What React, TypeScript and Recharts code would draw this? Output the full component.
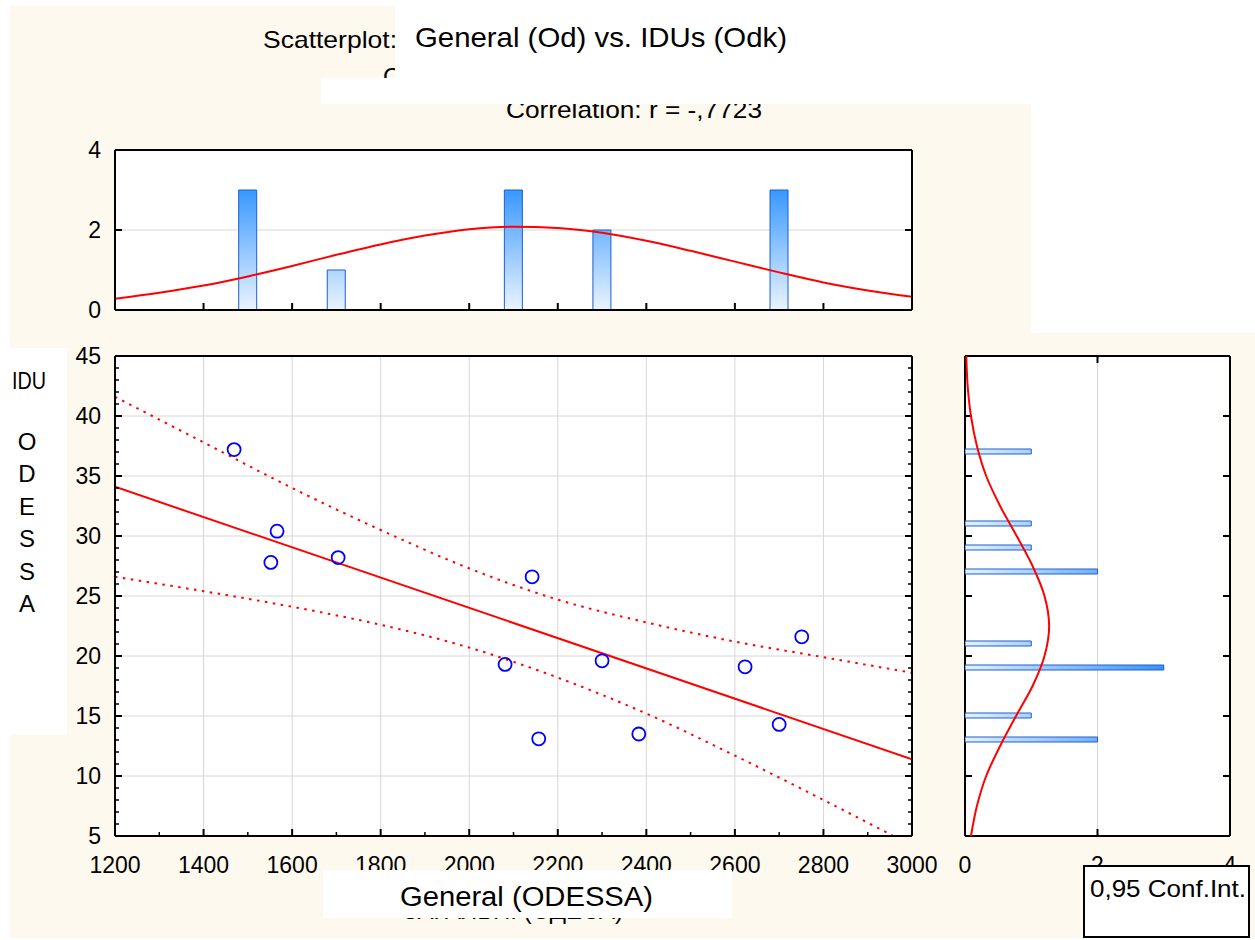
import React from 'react';
import { ComposedChart, XAxis, YAxis, Bar, Line, Scatter, CartesianGrid } from 'recharts';

const FONT = '"Liberation Sans", Arial, Helvetica, sans-serif';
const CREAM = '#fef9ee';
const RED = '#ff0000';

// ---------------- data ----------------
const generalOdessa = [1469, 1566, 1552, 1704, 2081, 2142, 2157, 2300, 2383, 2623, 2700, 2751];
const iduOdessa = [37.2, 30.4, 27.8, 28.2, 19.3, 26.6, 13.1, 19.6, 13.5, 19.1, 14.3, 21.6];

const generalBins = [1500, 1700, 2100, 2300, 2700];
const generalCounts = [3, 1, 3, 2, 3];

const iduBins = [37, 31, 29, 27, 21, 19, 15, 13];
const iduCounts = [1, 1, 1, 2, 1, 3, 1, 2];

const fitX = [1200, 3000];
const fitY = [34.1, 11.4];

const bandX = [1200, 1400, 1600, 1800, 2000, 2200, 2400, 2600, 2800, 3000];
const bandUpper = [41.6, 37.8, 34.0, 30.5, 27.3, 24.7, 22.8, 21.2, 19.9, 18.6];
const bandLower = [26.6, 25.4, 24.1, 22.6, 20.7, 18.2, 15.2, 11.7, 8.0, 4.2];

const generalCurveX = [1200, 1300, 1400, 1500, 1600, 1700, 1800, 1900, 2000, 2100, 2200, 2300, 2400, 2500, 2600, 2700, 2800, 2900, 3000];
const generalCurveY = [0.28, 0.43, 0.61, 0.84, 1.10, 1.38, 1.64, 1.86, 2.02, 2.08, 2.05, 1.93, 1.73, 1.48, 1.21, 0.94, 0.69, 0.49, 0.33];

const iduCurveY = [5, 7.5, 10, 12.5, 15, 17.5, 20, 22.5, 25, 27.5, 30, 32.5, 35, 37.5, 40, 42.5, 45];
const iduCurveX = [0.09, 0.18, 0.32, 0.53, 0.77, 1.02, 1.20, 1.27, 1.20, 1.02, 0.78, 0.53, 0.32, 0.18, 0.09, 0.04, 0.02];

const xMinorTicks = [1200, 1300, 1400, 1500, 1600, 1700, 1800, 1900, 2000, 2100, 2200, 2300, 2400, 2500, 2600, 2700, 2800, 2900, 3000];
const xMajorTicks = [1200, 1400, 1600, 1800, 2000, 2200, 2400, 2600, 2800, 3000];
const yMinorTicks = [5, 6, 7, 8, 9, 10, 11, 12, 13, 14, 15, 16, 17, 18, 19, 20, 21, 22, 23, 24, 25, 26, 27, 28, 29, 30, 31, 32, 33, 34, 35, 36, 37, 38, 39, 40, 41, 42, 43, 44, 45];
const yMajorTicks = [5, 10, 15, 20, 25, 30, 35, 40, 45];
const countTicks = [0, 2, 4];

const yAxisLetters = ['O', 'D', 'E', 'S', 'S', 'A'];

// ---------------- tables built from the arrays ----------------
const scatterData = generalOdessa.map((x, i) => ({ x, y: iduOdessa[i] }));
const fitData = fitX.map((x, i) => ({ x, y: fitY[i] }));
const upperData = bandX.map((x, i) => ({ x, y: bandUpper[i] }));
const lowerData = bandX.map((x, i) => ({ x, y: bandLower[i] }));
const topHistData = generalBins.map((x, i) => ({ x, count: generalCounts[i] }));
const topCurveData = generalCurveX.map((x, i) => ({ x, count: generalCurveY[i] }));
const rightHistData = iduBins.map((y, i) => ({ y, count: iduCounts[i] }));
const rightCurveData = iduCurveY.map((y, i) => ({ y, count: iduCurveX[i] }));
const rightFrameData = countTicks.map((c) => ({ c }));

// ---------------- tick renderers (inward ticks) ----------------
const LABEL_SIZE = 23;
const axisLine = { stroke: '#000', strokeWidth: 2 };

const bottomTick = (major: number[], labels: boolean) => (p: any) => {
  const v = p.payload.value;
  const isMajor = major.includes(v);
  return (
    <g>
      <line x1={p.x} x2={p.x} y1={p.y} y2={p.y - (isMajor ? 7 : 4)} stroke="#000" strokeWidth={isMajor ? 2 : 1.5} />
      {labels && isMajor && (
        <text x={p.x} y={p.y + 37} textAnchor="middle" fontFamily={FONT} fontSize={LABEL_SIZE} fill="#000">{v}</text>
      )}
    </g>
  );
};

const topTick = (major: number[]) => (p: any) => {
  const v = p.payload.value;
  const isMajor = major.includes(v);
  return <line x1={p.x} x2={p.x} y1={p.y} y2={p.y + (isMajor ? 7 : 4)} stroke="#000" strokeWidth={isMajor ? 2 : 1.5} />;
};

const leftTick = (major: number[], labels: boolean) => (p: any) => {
  const v = p.payload.value;
  const isMajor = major.includes(v);
  return (
    <g>
      <line x1={p.x} x2={p.x + (isMajor ? 7 : 4)} y1={p.y} y2={p.y} stroke="#000" strokeWidth={isMajor ? 2 : 1.5} />
      {labels && isMajor && (
        <text x={p.x - 14} y={p.y + 8} textAnchor="end" fontFamily={FONT} fontSize={LABEL_SIZE} fill="#000">{v}</text>
      )}
    </g>
  );
};

const rightTick = (major: number[]) => (p: any) => {
  const v = p.payload.value;
  const isMajor = major.includes(v);
  return <line x1={p.x} x2={p.x - (isMajor ? 7 : 4)} y1={p.y} y2={p.y} stroke="#000" strokeWidth={isMajor ? 2 : 1.5} />;
};

const axisCommon = { tickSize: 0, tickMargin: 0, tickLine: false, axisLine, interval: 0 as const, allowDataOverflow: true };

const circleShape = (p: any) => (
  <circle cx={p.cx} cy={p.cy} r={6.5} fill="none" stroke="#0000ff" strokeWidth={1.8} />
);

const layer: React.CSSProperties = { position: 'absolute', left: 0, top: 0 };

export default function App() {
  return (
    <div style={{ position: 'absolute', left: 0, top: 0, width: 1255, height: 940, background: '#fff', overflow: 'hidden' }}>
      {/* background panels */}
      <div style={{ ...layer, left: 10, top: 6, width: 385, height: 100, background: CREAM }} />
      <div style={{ ...layer, left: 10, top: 100, width: 1021, height: 236, background: CREAM }} />
      <div style={{ ...layer, left: 10, top: 333, width: 1245, height: 605, background: CREAM }} />

      {/* top histogram of General */}
      <div style={layer}>
        <ComposedChart width={1255} height={940} margin={{ top: 140, right: 333, bottom: 620, left: 0 }} data={topHistData}>
          <defs>
            <linearGradient id="gradTop" gradientUnits="userSpaceOnUse" x1="0" y1="190" x2="0" y2="310">
              <stop offset="0" stopColor="#3898ff" />
              <stop offset="1" stopColor="#ebf4ff" />
            </linearGradient>
          </defs>
          <CartesianGrid fill="#fff" stroke="#d6d6d6" vertical={false} horizontalValues={[2]} />
          <XAxis dataKey="x" type="number" domain={[1200, 3000]} ticks={xMajorTicks} height={10} {...axisCommon} tick={bottomTick(xMajorTicks, false)} />
          <XAxis xAxisId="top" orientation="top" type="number" domain={[1200, 3000]} ticks={xMajorTicks} height={10} {...axisCommon} tick={topTick(xMajorTicks)} />
          <YAxis type="number" domain={[0, 4]} ticks={countTicks} width={115} {...axisCommon} tick={leftTick(countTicks, true)} />
          <YAxis yAxisId="right" orientation="right" type="number" domain={[0, 4]} ticks={countTicks} width={10} {...axisCommon} tick={rightTick(countTicks)} />
          <Bar dataKey="count" barSize={18} fill="url(#gradTop)" stroke="#1b5fd4" strokeWidth={1} isAnimationActive={false} />
          <Line data={topCurveData} dataKey="count" type="monotone" stroke={RED} strokeWidth={2} dot={false} activeDot={false} isAnimationActive={false} />
        </ComposedChart>
      </div>

      {/* main scatterplot */}
      <div style={layer}>
        <ComposedChart width={1255} height={940} margin={{ top: 346, right: 333, bottom: 64, left: 0 }}>
          <CartesianGrid fill="#fff" stroke="#d6d6d6" verticalValues={xMajorTicks} horizontalValues={yMajorTicks} />
          <XAxis dataKey="x" type="number" domain={[1200, 3000]} ticks={xMinorTicks} height={40} {...axisCommon} tick={bottomTick(xMajorTicks, true)} />
          <XAxis xAxisId="top" orientation="top" type="number" domain={[1200, 3000]} ticks={xMinorTicks} height={10} {...axisCommon} tick={topTick(xMajorTicks)} />
          <YAxis dataKey="y" type="number" domain={[5, 45]} ticks={yMinorTicks} width={115} {...axisCommon} tick={leftTick(yMajorTicks, true)} />
          <YAxis yAxisId="right" orientation="right" type="number" domain={[5, 45]} ticks={yMinorTicks} width={10} {...axisCommon} tick={rightTick(yMajorTicks)} />
          <Line data={upperData} dataKey="y" type="monotone" stroke={RED} strokeWidth={2} strokeDasharray="2.5 5.5" dot={false} activeDot={false} isAnimationActive={false} />
          <Line data={lowerData} dataKey="y" type="monotone" stroke={RED} strokeWidth={2} strokeDasharray="2.5 5.5" dot={false} activeDot={false} isAnimationActive={false} />
          <Line data={fitData} dataKey="y" type="linear" stroke={RED} strokeWidth={2} dot={false} activeDot={false} isAnimationActive={false} />
          <Scatter data={scatterData} dataKey="y" shape={circleShape} isAnimationActive={false} />
        </ComposedChart>
      </div>

      {/* right histogram of IDU: frame, grid and axes */}
      <div style={layer}>
        <ComposedChart width={1255} height={940} margin={{ top: 346, right: 15, bottom: 64, left: 955 }} data={rightFrameData}>
          <CartesianGrid fill="#fff" stroke="#d6d6d6" horizontal={false} verticalValues={[2]} />
          <XAxis dataKey="c" type="number" domain={[0, 4]} ticks={countTicks} height={40} {...axisCommon} tick={bottomTick(countTicks, true)} />
          <XAxis dataKey="c" xAxisId="top" orientation="top" type="number" domain={[0, 4]} ticks={countTicks} height={10} {...axisCommon} tick={topTick(countTicks)} />
          <YAxis type="number" domain={[5, 45]} ticks={yMajorTicks} width={10} {...axisCommon} tick={leftTick(yMajorTicks, false)} />
          <YAxis yAxisId="right" orientation="right" type="number" domain={[5, 45]} ticks={yMajorTicks} width={10} {...axisCommon} tick={rightTick(yMajorTicks)} />
        </ComposedChart>
      </div>

      {/* right histogram of IDU: bars and normal curve */}
      <div style={layer}>
        <ComposedChart layout="vertical" width={1255} height={940} margin={{ top: 356, right: 25, bottom: 104, left: 965 }} data={rightHistData}>
          <defs>
            <linearGradient id="gradRight" gradientUnits="userSpaceOnUse" x1="965" y1="0" x2="1163" y2="0">
              <stop offset="0" stopColor="#e4f0fe" />
              <stop offset="1" stopColor="#3a92f6" />
            </linearGradient>
          </defs>
          <XAxis hide type="number" domain={[0, 4]} allowDataOverflow />
          <YAxis hide dataKey="y" type="number" domain={[5, 45]} reversed allowDataOverflow />
          <Bar dataKey="count" barSize={5} fill="url(#gradRight)" stroke="#1b5fd4" strokeWidth={1} isAnimationActive={false} />
          <Line data={rightCurveData} dataKey="count" type="monotone" stroke={RED} strokeWidth={2} dot={false} activeDot={false} isAnimationActive={false} />
        </ComposedChart>
      </div>

      {/* titles, labels and covering panels */}
      <svg width={1255} height={940} style={{ ...layer, pointerEvents: 'none' }} fontFamily={FONT}>
        <text x={634} y={118} textAnchor="middle" fontSize={24} textLength={256} lengthAdjust="spacingAndGlyphs">Correlation: r = -,7723</text>
        <text x={383} y={85} fontSize={24}>Співвідношення</text>
        <text x={513} y={919} textAnchor="middle" fontSize={24}>ЗАГАЛЬНІ (ОДЕСА)</text>

        <rect x={395} y={0} width={860} height={104} fill="#fff" />
        <rect x={321} y={78} width={74} height={26} fill="#fff" />
        <rect x={10} y={348} width={57} height={387} fill="#fff" />
        <rect x={323} y={870} width={409} height={48} fill="#fff" />

        <text x={263} y={48} fontSize={24} textLength={134} lengthAdjust="spacingAndGlyphs">Scatterplot:</text>
        <text x={415} y={47} fontSize={28} textLength={372} lengthAdjust="spacingAndGlyphs">General (Od) vs. IDUs (Odk)</text>
        <text x={400} y={906} fontSize={27} textLength={253} lengthAdjust="spacingAndGlyphs">General (ODESSA)</text>

        <text x={12} y={389} fontSize={24} textLength={34} lengthAdjust="spacingAndGlyphs">IDU</text>
        {yAxisLetters.map((ch, i) => (
          <text key={i} x={27} y={450 + i * 32.4} textAnchor="middle" fontSize={24}>{ch}</text>
        ))}

        <rect x={1084} y={866} width={165} height={71} fill="#fff" stroke="#000" strokeWidth={2} />
        <text x={1090} y={897} fontSize={24} textLength={156} lengthAdjust="spacingAndGlyphs">0,95 Conf.Int.</text>
      </svg>
    </div>
  );
}
